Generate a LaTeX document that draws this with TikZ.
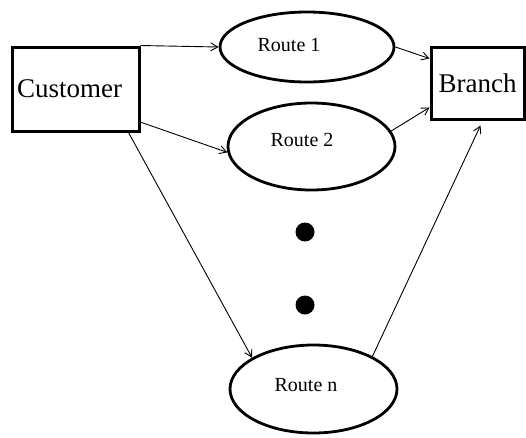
\documentclass[tikz,border=0pt]{standalone}
\usepackage{fontspec}
\setmainfont{Liberation Serif}
\usetikzlibrary{shapes.geometric,arrows.meta,calc}
\begin{document}
\begin{tikzpicture}[x=1pt,y=-1pt,
  box/.style={draw,line width=3pt,rectangle,inner sep=0pt,font=\fontsize{27}{30}\selectfont},
  route/.style={draw,line width=2.8pt,ellipse,inner sep=0pt},
  rtext/.style={font=\fontsize{20}{22}\selectfont},
  conn/.style={line width=0.9pt,-{Straight Barb[length=7pt,width=8pt,line width=0.9pt]}},
  dot/.style={circle,fill,inner sep=0pt,minimum size=19pt}]
\useasboundingbox (0,0) rectangle (526,437);
\node[box,minimum width=127pt,minimum height=84pt,text width=117pt,inner xsep=5pt,align=left] (cust) at (75.5,89) {Customer};
\node[box,minimum width=93pt,minimum height=72pt] (br) at (477.5,83) {Branch};
\node[route,minimum width=174pt,minimum height=70pt,
  label={[rtext,xshift=-18pt,yshift=2pt]center:Route 1}] (r1) at (307,47) {};
\node[route,minimum width=167pt,minimum height=87pt,
  label={[rtext,xshift=-9.5pt,yshift=6.5pt]center:Route 2}] (r2) at (311.5,146.5) {};
\node[route,minimum width=167pt,minimum height=88pt,
  label={[rtext,xshift=-7.5pt,yshift=4pt]center:Route n}] (rn) at (313.5,389) {};
\node[dot] (d1) at (305,232) {};
\node[dot] (d2) at (305,305) {};
\draw[conn] (cust.north east) -- (r1.west);
\draw[conn] (cust.-27.5) -- (r2.-176);
\draw[conn] ($(cust.south east)+(-12pt,0pt)$) -- (rn.153.6);
\draw[conn] (r1.east) -- (br.153.7);
\draw[conn] (r2.11.2) -- (br.207.3);
\draw[conn] (rn.29.5) -- ($(br.south)+(3pt,-5pt)$);
\end{tikzpicture}
\end{document}
